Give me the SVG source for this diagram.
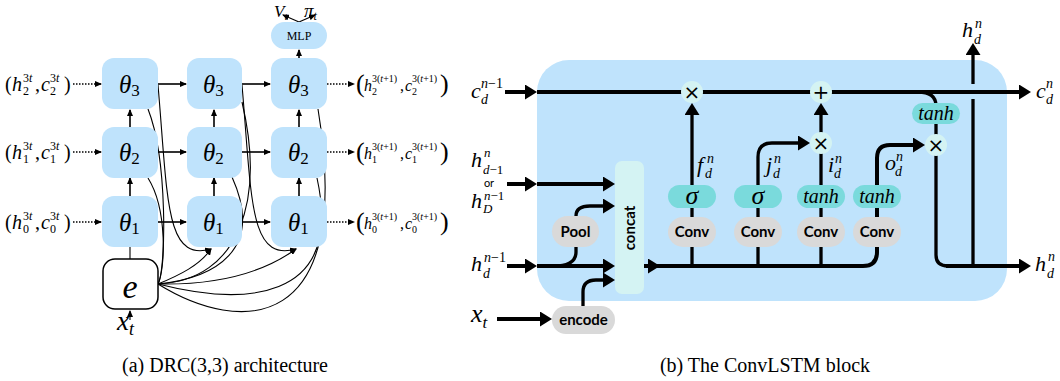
<svg xmlns="http://www.w3.org/2000/svg" width="1060" height="381" viewBox="0 0 1060 381">
<style>
.th{fill:#BFE3FC}
.lc{fill:none;stroke:#000;stroke-width:1.6}
.cv{fill:none;stroke:#000;stroke-width:1.1}
.dt{fill:none;stroke:#000;stroke-width:1.5;stroke-dasharray:1.5 1.5}
.tk{fill:none;stroke:#000;stroke-width:4}
.md{fill:none;stroke:#000;stroke-width:3.3}
.gray{fill:#D9D9D9}
.teal{fill:#7ADADC}
.cyan{fill:#D4F3F3}
.mi{font-family:"Liberation Serif",serif;font-style:italic}
.rm{font-family:"Liberation Serif",serif;font-style:normal}
.sb{font-family:Lato,"Liberation Sans",sans-serif;font-weight:bold;font-size:15px}
.cap{font-family:"Liberation Serif",serif;font-size:20px}
.op{font-family:"DejaVu Sans",sans-serif;font-size:20px}
</style>
<defs>
<marker id="sa" markerUnits="userSpaceOnUse" markerWidth="7" markerHeight="6" refX="6" refY="3" orient="auto" viewBox="0 0 7 6"><path d="M0,0L7,3L0,6z"/></marker>
<marker id="ba" markerUnits="userSpaceOnUse" markerWidth="12" markerHeight="15" refX="7" refY="7.5" orient="auto" viewBox="0 0 12 15"><path d="M0,0L12,7.5L0,15z"/></marker>
</defs>

<!-- ===== (a) DRC ===== -->
<g id="connectors-a">
<path class="cv" d="M158,284 C166,270 168,160 148,109"/>
<path class="cv" d="M158,284 C165,270 168,210 148,178"/>
<path class="cv" d="M158,85 C168,200 165,262 211,249" marker-end="url(#sa)"/>
<path class="cv" d="M158,284 C180,275 200,265 211,249" marker-end="url(#sa)"/>
<path class="cv" d="M158,284 C215,278 265,250 232,177"/>
<path class="cv" d="M158,284 C240,280 265,200 242,102"/>
<path class="cv" d="M242,85 C252,200 249,262 296,249" marker-end="url(#sa)"/>
<path class="cv" d="M158,284 C210,285 260,275 296,249" marker-end="url(#sa)"/>
<path class="cv" d="M158,284 C240,305 345,305 317,178"/>
<path class="cv" d="M158,284 C240,335 355,335 318,109"/>
<path class="lc" d="M158,84H186" marker-end="url(#sa)"/>
<path class="lc" d="M242,84H270" marker-end="url(#sa)"/>
<path class="lc" d="M158,152H186" marker-end="url(#sa)"/>
<path class="lc" d="M242,152H270" marker-end="url(#sa)"/>
<path class="lc" d="M158,222H186" marker-end="url(#sa)"/>
<path class="lc" d="M242,222H270" marker-end="url(#sa)"/>
<path class="lc" d="M130,196V178" marker-end="url(#sa)"/>
<path class="lc" d="M130,127V110" marker-end="url(#sa)"/>
<path class="lc" d="M214,196V178" marker-end="url(#sa)"/>
<path class="lc" d="M214,127V110" marker-end="url(#sa)"/>
<path class="lc" d="M299,196V178" marker-end="url(#sa)"/>
<path class="lc" d="M299,127V110" marker-end="url(#sa)"/>
<path class="lc" d="M299,58V50" marker-end="url(#sa)"/>
<path class="cv" d="M130,259V247"/>
<path class="cv" d="M130,320V311" marker-end="url(#sa)"/>
<path class="cv" d="M299,22L283,15" marker-end="url(#sa)"/>
<path class="cv" d="M299,22L315,15" marker-end="url(#sa)"/>
<path class="dt" d="M73,84H101" marker-end="url(#sa)"/>
<path class="dt" d="M73,152H101" marker-end="url(#sa)"/>
<path class="dt" d="M73,222H101" marker-end="url(#sa)"/>
<path class="dt" d="M327,84H354" marker-end="url(#sa)"/>
<path class="dt" d="M327,152H354" marker-end="url(#sa)"/>
<path class="dt" d="M327,222H354" marker-end="url(#sa)"/>
</g>

<g id="a-theta-1-3"><rect class="th" x="102" y="58" width="56" height="51" rx="12"/><text class="mi" font-size="25" x="119" y="93">θ<tspan class="rm" font-size="17" y="96">3</tspan></text></g>
<g id="a-theta-2-3"><rect class="th" x="187" y="58" width="55" height="51" rx="12"/><text class="mi" font-size="25" x="203" y="93">θ<tspan class="rm" font-size="17" y="96">3</tspan></text></g>
<g id="a-theta-3-3"><rect class="th" x="271" y="58" width="56" height="51" rx="12"/><text class="mi" font-size="25" x="288" y="93">θ<tspan class="rm" font-size="17" y="96">3</tspan></text></g>
<g id="a-theta-1-2"><rect class="th" x="102" y="127" width="56" height="51" rx="12"/><text class="mi" font-size="25" x="119" y="161">θ<tspan class="rm" font-size="17" y="164">2</tspan></text></g>
<g id="a-theta-2-2"><rect class="th" x="187" y="127" width="55" height="51" rx="12"/><text class="mi" font-size="25" x="203" y="161">θ<tspan class="rm" font-size="17" y="164">2</tspan></text></g>
<g id="a-theta-3-2"><rect class="th" x="271" y="127" width="56" height="51" rx="12"/><text class="mi" font-size="25" x="288" y="161">θ<tspan class="rm" font-size="17" y="164">2</tspan></text></g>
<g id="a-theta-1-1"><rect class="th" x="102" y="196" width="56" height="51" rx="12"/><text class="mi" font-size="25" x="119" y="231">θ<tspan class="rm" font-size="17" y="234">1</tspan></text></g>
<g id="a-theta-2-1"><rect class="th" x="187" y="196" width="55" height="51" rx="12"/><text class="mi" font-size="25" x="203" y="231">θ<tspan class="rm" font-size="17" y="234">1</tspan></text></g>
<g id="a-theta-3-1"><rect class="th" x="271" y="196" width="56" height="51" rx="12"/><text class="mi" font-size="25" x="288" y="231">θ<tspan class="rm" font-size="17" y="234">1</tspan></text></g>
<g id="a-mlp"><rect class="th" x="271" y="22" width="56" height="27" rx="13.5"/><text class="rm" font-size="12" x="299" y="40" text-anchor="middle">MLP</text></g>
<g id="a-outputs"><text class="mi" font-size="17" x="274" y="17">V<tspan font-size="11" y="20">t</tspan></text><text class="mi" font-size="19" x="304" y="17">π<tspan font-size="12" y="20">t</tspan></text></g>
<g id="a-e"><rect x="103" y="259" width="55" height="50" rx="12" fill="#fff" stroke="#000" stroke-width="1.5"/><text class="mi" font-size="34" x="130" y="298" text-anchor="middle">e</text></g>
<g id="a-xt"><text class="mi" font-size="27" x="117" y="330">x<tspan font-size="18" y="335">t</tspan></text></g>

<g id="a-in-3"><text class="mi" font-size="20"><tspan class="rm" x="5" y="91">(</tspan><tspan x="12" y="91">h</tspan><tspan x="23" y="82" font-size="12"><tspan class="rm">3</tspan>t</tspan><tspan class="rm" x="23" y="95" font-size="12">2</tspan><tspan class="rm" x="35" y="91">,</tspan><tspan x="41" y="91">c</tspan><tspan x="50" y="82" font-size="12"><tspan class="rm">3</tspan>t</tspan><tspan class="rm" x="50" y="95" font-size="12">2</tspan><tspan class="rm" x="64" y="91">)</tspan></text></g>
<g id="a-in-2"><text class="mi" font-size="20"><tspan class="rm" x="5" y="159">(</tspan><tspan x="12" y="159">h</tspan><tspan x="23" y="150" font-size="12"><tspan class="rm">3</tspan>t</tspan><tspan class="rm" x="23" y="163" font-size="12">1</tspan><tspan class="rm" x="35" y="159">,</tspan><tspan x="41" y="159">c</tspan><tspan x="50" y="150" font-size="12"><tspan class="rm">3</tspan>t</tspan><tspan class="rm" x="50" y="163" font-size="12">1</tspan><tspan class="rm" x="64" y="159">)</tspan></text></g>
<g id="a-in-1"><text class="mi" font-size="20"><tspan class="rm" x="5" y="229">(</tspan><tspan x="12" y="229">h</tspan><tspan x="23" y="220" font-size="12"><tspan class="rm">3</tspan>t</tspan><tspan class="rm" x="23" y="233" font-size="12">0</tspan><tspan class="rm" x="35" y="229">,</tspan><tspan x="41" y="229">c</tspan><tspan x="50" y="220" font-size="12"><tspan class="rm">3</tspan>t</tspan><tspan class="rm" x="50" y="233" font-size="12">0</tspan><tspan class="rm" x="64" y="229">)</tspan></text></g>

<g id="a-out-3"><text class="mi" font-size="16"><tspan class="rm" x="356" y="92" font-size="26">(</tspan><tspan x="364" y="91">h</tspan><tspan class="rm" x="372" y="82" font-size="10">3(<tspan class="mi">t</tspan>+1)</tspan><tspan class="rm" x="372" y="95" font-size="10">2</tspan><tspan class="rm" x="400" y="91">,</tspan><tspan x="405" y="91">c</tspan><tspan class="rm" x="412" y="82" font-size="10">3(<tspan class="mi">t</tspan>+1)</tspan><tspan class="rm" x="412" y="95" font-size="10">2</tspan><tspan class="rm" x="440" y="92" font-size="26">)</tspan></text></g>
<g id="a-out-2"><text class="mi" font-size="16"><tspan class="rm" x="356" y="160" font-size="26">(</tspan><tspan x="364" y="159">h</tspan><tspan class="rm" x="372" y="150" font-size="10">3(<tspan class="mi">t</tspan>+1)</tspan><tspan class="rm" x="372" y="163" font-size="10">1</tspan><tspan class="rm" x="400" y="159">,</tspan><tspan x="405" y="159">c</tspan><tspan class="rm" x="412" y="150" font-size="10">3(<tspan class="mi">t</tspan>+1)</tspan><tspan class="rm" x="412" y="163" font-size="10">1</tspan><tspan class="rm" x="440" y="160" font-size="26">)</tspan></text></g>
<g id="a-out-1"><text class="mi" font-size="16"><tspan class="rm" x="356" y="230" font-size="26">(</tspan><tspan x="364" y="229">h</tspan><tspan class="rm" x="372" y="220" font-size="10">3(<tspan class="mi">t</tspan>+1)</tspan><tspan class="rm" x="372" y="233" font-size="10">0</tspan><tspan class="rm" x="400" y="229">,</tspan><tspan x="405" y="229">c</tspan><tspan class="rm" x="412" y="220" font-size="10">3(<tspan class="mi">t</tspan>+1)</tspan><tspan class="rm" x="412" y="233" font-size="10">0</tspan><tspan class="rm" x="440" y="230" font-size="26">)</tspan></text></g>

<text class="cap" x="225" y="372" text-anchor="middle">(a) DRC(3,3) architecture</text>

<!-- ===== (b) ConvLSTM ===== -->
<g id="b-block"><rect x="537" y="60" width="470" height="241" rx="32" fill="#BFE3FC"/></g>

<g id="connectors-b">
<path class="tk" d="M505,92H532" marker-end="url(#ba)"/>
<path class="tk" d="M537,92H1026" marker-end="url(#ba)"/>
<path class="tk" d="M507,184H532" marker-end="url(#ba)"/>
<path class="tk" d="M537,184H610" marker-end="url(#ba)"/>
<path class="tk" d="M507,266H532" marker-end="url(#ba)"/>
<path class="tk" d="M537,266H610" marker-end="url(#ba)"/>
<path class="md" d="M554,266Q576,266 576,252V247"/>
<path class="md" d="M576,216Q576,206 590,206H610" marker-end="url(#ba)"/>
<path class="md" d="M583,306V292Q583,280 596,280H610" marker-end="url(#ba)"/>
<path class="tk" d="M497,319H547" marker-end="url(#ba)"/>
<path class="tk" d="M644,266H655" marker-end="url(#ba)"/>
<path class="tk" d="M655,266H863Q877,266 877,252V158Q877,145 890,145H920" marker-end="url(#ba)"/>
<path class="md" d="M692,266V108" marker-end="url(#ba)"/>
<path class="md" d="M758,266V157Q758,143 772,143H805" marker-end="url(#ba)"/>
<path class="md" d="M821,266V150"/>
<path class="md" d="M821,136V108" marker-end="url(#ba)"/>
<path class="md" d="M918,92Q936,92 936,106V255Q936,266 948,266"/>
<path class="tk" d="M946,266H1026" marker-end="url(#ba)"/>
<path class="md" d="M973,266V99"/>
<path class="md" d="M973,84V48" marker-end="url(#ba)"/>
</g>

<g id="b-concat"><rect class="cyan" x="615" y="161" width="29" height="133" rx="7"/><text class="sb" transform="translate(630,228) rotate(-90)" text-anchor="middle" y="5">concat</text></g>
<g id="b-pool"><rect class="gray" x="552" y="216" width="47" height="31" rx="15.5"/><text class="sb" x="575.5" y="237" text-anchor="middle">Pool</text></g>
<g id="b-encode"><rect class="gray" x="552" y="306" width="63" height="28" rx="14"/><text class="sb" x="583.5" y="325" text-anchor="middle">encode</text></g>

<g id="b-conv-f"><rect class="gray" x="668" y="217" width="48" height="30" rx="15"/><text class="sb" x="692" y="237" text-anchor="middle">Conv</text></g>
<g id="b-conv-j"><rect class="gray" x="734" y="217" width="48" height="30" rx="15"/><text class="sb" x="758" y="237" text-anchor="middle">Conv</text></g>
<g id="b-conv-i"><rect class="gray" x="797" y="217" width="48" height="30" rx="15"/><text class="sb" x="821" y="237" text-anchor="middle">Conv</text></g>
<g id="b-conv-o"><rect class="gray" x="853" y="217" width="48" height="30" rx="15"/><text class="sb" x="877" y="237" text-anchor="middle">Conv</text></g>

<g id="b-act-f"><rect class="teal" x="668" y="185" width="48" height="23" rx="11.5"/><text class="mi" font-size="26" x="692" y="204" text-anchor="middle">σ</text></g>
<g id="b-act-j"><rect class="teal" x="734" y="185" width="48" height="23" rx="11.5"/><text class="mi" font-size="26" x="758" y="204" text-anchor="middle">σ</text></g>
<g id="b-act-i"><rect class="teal" x="797" y="185" width="48" height="23" rx="11.5"/><text class="mi" font-size="20" x="821" y="203" text-anchor="middle">tanh</text></g>
<g id="b-act-o"><rect class="teal" x="853" y="185" width="48" height="23" rx="11.5"/><text class="mi" font-size="20" x="877" y="203" text-anchor="middle">tanh</text></g>
<g id="b-act-c"><rect class="teal" x="912" y="103" width="48" height="21" rx="10.5"/><text class="mi" font-size="20" x="936" y="120" text-anchor="middle">tanh</text></g>

<g id="b-mul-f"><circle class="cyan" cx="692" cy="92" r="11"/><text class="op" x="692" y="99" text-anchor="middle">×</text></g>
<g id="b-add"><circle class="cyan" cx="821" cy="92" r="11"/><text class="op" x="821" y="99" text-anchor="middle">+</text></g>
<g id="b-mul-i"><circle class="cyan" cx="821" cy="143" r="11"/><text class="op" x="821" y="150" text-anchor="middle">×</text></g>
<g id="b-mul-o"><circle class="cyan" cx="936" cy="145" r="11"/><text class="op" x="936" y="152" text-anchor="middle">×</text></g>

<g id="b-labels">
<text class="mi" font-size="22" x="471" y="98">c<tspan font-size="14" x="481" y="88">n<tspan class="rm">−1</tspan></tspan><tspan font-size="14" x="481" y="104">d</tspan></text>
<text class="mi" font-size="22" x="471" y="167">h<tspan font-size="13" x="484" y="157">n</tspan><tspan font-size="13" x="483" y="174">d<tspan class="rm">−1</tspan></tspan></text>
<text font-family="Lato,'Liberation Sans',sans-serif" font-size="11" x="489" y="187" text-anchor="middle">or</text>
<text class="mi" font-size="22" x="471" y="208">h<tspan font-size="13" x="484" y="200">n<tspan class="rm">−1</tspan></tspan><tspan font-size="13" x="483" y="213">D</tspan></text>
<text class="mi" font-size="22" x="471" y="271">h<tspan font-size="14" x="484" y="262">n<tspan class="rm">−1</tspan></tspan><tspan font-size="14" x="483" y="278">d</tspan></text>
<text class="mi" font-size="26" x="471" y="322">x<tspan font-size="17" y="328">t</tspan></text>
<text class="mi" font-size="22" x="1036" y="98">c<tspan font-size="14" x="1046" y="88">n</tspan><tspan font-size="14" x="1046" y="104">d</tspan></text>
<text class="mi" font-size="22" x="962" y="37">h<tspan font-size="14" x="975" y="28">n</tspan><tspan font-size="14" x="974" y="44">d</tspan></text>
<text class="mi" font-size="22" x="1035" y="271">h<tspan font-size="14" x="1048" y="261">n</tspan><tspan font-size="14" x="1047" y="278">d</tspan></text>
<text class="mi" font-size="22" x="697" y="172">f<tspan font-size="14" x="707" y="163">n</tspan><tspan font-size="14" x="705" y="178">d</tspan></text>
<text class="mi" font-size="22" x="766" y="172">j<tspan font-size="14" x="774" y="163">n</tspan><tspan font-size="14" x="773" y="178">d</tspan></text>
<text class="mi" font-size="22" x="828" y="172">i<tspan font-size="14" x="835" y="163">n</tspan><tspan font-size="14" x="834" y="178">d</tspan></text>
<text class="mi" font-size="22" x="885" y="170">o<tspan font-size="14" x="896" y="161">n</tspan><tspan font-size="14" x="895" y="176">d</tspan></text>
</g>

<text class="cap" x="765" y="372" text-anchor="middle">(b) The ConvLSTM block</text>
</svg>
